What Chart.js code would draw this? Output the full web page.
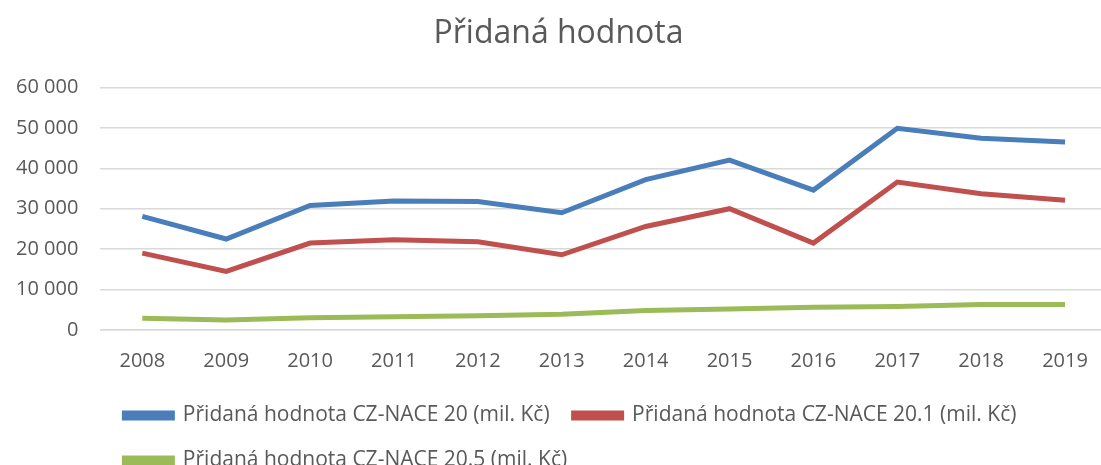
<!DOCTYPE html>
<html>
<head>
<meta charset="utf-8">
<script src="https://cdn.jsdelivr.net/npm/chart.js@4/dist/chart.umd.min.js"></script>
<style>
  html, body { margin: 0; background: #fff; overflow: hidden; width: 1101px; height: 465px; }
  /* the original picture is a crop: plot runs past the right edge and legend past the bottom */
  #wrap { width: 1107px; height: 481px; }
</style>
</head>
<body>
<div id="wrap"><canvas id="valueChart"></canvas></div>
<script>
// years on the x axis
const years = ["2008", "2009", "2010", "2011", "2012", "2013", "2014", "2015", "2016", "2017", "2018", "2019"];

// values (mil. Kč)
const nace20 = [28100, 22500, 30800, 31900, 31800, 29000, 37200, 42000, 34600, 49900, 47400, 46500];
const nace201 = [19000, 14500, 21500, 22300, 21800, 18600, 25600, 30000, 21500, 36600, 33700, 32100];
const nace205 = [2900, 2500, 3050, 3300, 3550, 3900, 4800, 5200, 5600, 5800, 6300, 6300];

const seriesNames = [
    "Přidaná hodnota CZ-NACE 20 (mil. Kč)",
    "Přidaná hodnota CZ-NACE 20.1 (mil. Kč)",
    "Přidaná hodnota CZ-NACE 20.5 (mil. Kč)"
];

const fontFamily = "'Open Sans', 'Liberation Sans', sans-serif";
const textColor = "#595959";

function make_line(label, data, color) {
    return {
        label: label,
        data: data,
        borderColor: color,
        backgroundColor: color,
        borderWidth: 5,
        pointRadius: 0,
        tension: 0,
        fill: false
    };
}

const ctx = document.getElementById("valueChart").getContext("2d");
const valueChart = new Chart(ctx, {
    type: "line",
    data: {
        labels: years,
        datasets: [
            make_line(seriesNames[0], nace20, "#4a7ebb"),
            make_line(seriesNames[1], nace201, "#c0504d"),
            make_line(seriesNames[2], nace205, "#9bbb59")
        ]
    },
    options: {
        responsive: true,
        maintainAspectRatio: false,
        animation: false,
        layout: {
            padding: { left: 10, right: 0, top: 0, bottom: 0 }
        },
        plugins: {
            title: {
                display: true,
                text: "Přidaná hodnota",
                color: textColor,
                font: { family: fontFamily, size: 32, weight: "normal" },
                padding: { top: 15, bottom: 34 }
            },
            legend: {
                position: "bottom",
                align: "start",
                fullSize: false,
                labels: {
                    color: textColor,
                    font: { family: fontFamily, size: 21 },
                    boxWidth: 48,
                    boxHeight: 5,
                    padding: 24
                }
            },
            tooltip: { enabled: false }
        },
        scales: {
            x: {
                offset: true,
                grid: { display: false, drawTicks: false },
                border: { display: true, color: "#d9d9d9", width: 1.5 },
                ticks: {
                    color: textColor,
                    font: { family: fontFamily, size: 20 },
                    maxRotation: 0,
                    padding: 19
                },
                // pull the legend up closer to the year labels
                afterFit: function (scale) {
                    scale.height -= 11;
                }
            },
            y: {
                min: 0,
                max: 60000,
                grid: { color: "#d9d9d9", lineWidth: 1.5, drawTicks: false },
                border: { display: false },
                ticks: {
                    stepSize: 10000,
                    color: textColor,
                    font: { family: fontFamily, size: 20 },
                    padding: 22,
                    callback: function (value) {
                        return value.toString().replace(/\B(?=(\d{3})+(?!\d))/g, " ");
                    }
                },
                afterFit: function (scale) {
                    scale.width -= 16;
                }
            }
        }
    }
});
</script>
</body>
</html>
